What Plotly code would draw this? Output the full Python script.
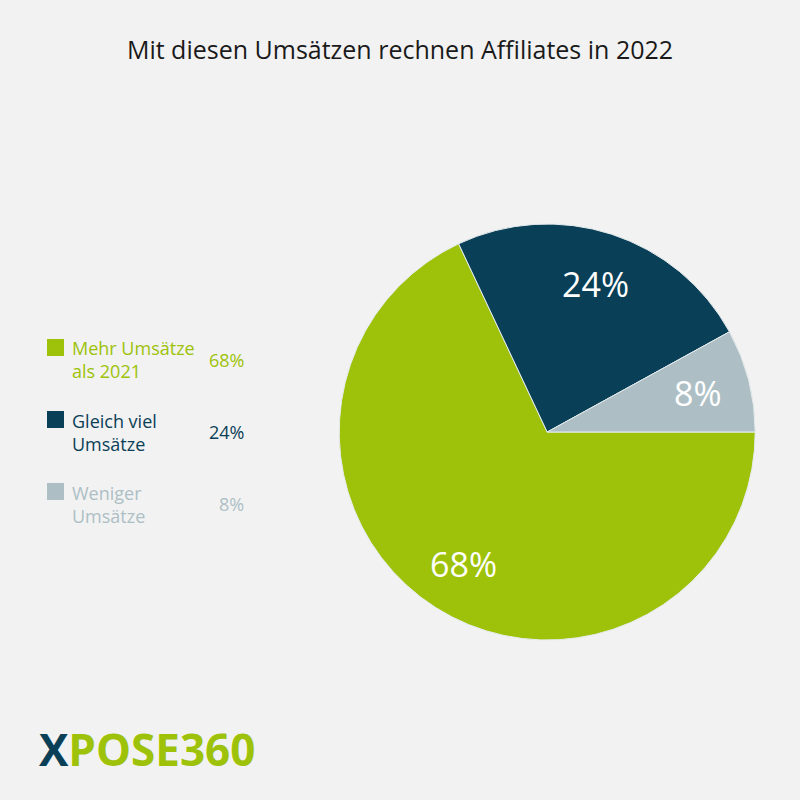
import math
import plotly.graph_objects as go

# Daten
kategorien = ["Mehr Umsätze<br>als 2021", "Gleich viel<br>Umsätze", "Weniger<br>Umsätze"]
anteile = [68, 24, 8]
farben = ["#9dc209", "#0a4057", "#adbfc5"]

bg = "#f2f2f2"
schrift = "Open Sans"

dom_x = [0.424, 0.944]
dom_y = [0.20, 0.72]

fig = go.Figure()

fig.add_trace(go.Pie(
    labels=kategorien, values=anteile, sort=False,
    direction="clockwise", rotation=90,
    marker=dict(colors=farben, line=dict(color="#e6ecee", width=1)),
    textinfo="none",
    domain=dict(x=dom_x, y=dom_y),
    showlegend=False, hoverinfo="label+percent",
))

annotations = []
shapes = []

# Prozentwerte in den Segmenten (Mitte des Segments, 0.75 des Radius)
cx = sum(dom_x) / 2
cy = sum(dom_y) / 2
r = (dom_x[1] - dom_x[0]) / 2
summe = sum(anteile)
start = 0
for wert in anteile:
    winkel = -math.radians((start + wert / 2) / summe * 360)
    start += wert
    annotations.append(dict(
        text=f"{wert}%", x=cx + 0.75 * r * math.cos(winkel), y=cy + 0.75 * r * math.sin(winkel),
        xref="paper", yref="paper", xanchor="center", yanchor="middle", showarrow=False,
        font=dict(family=schrift, size=34, color="white")))

# eigene Legende links
for i, (lab, wert, farbe) in enumerate(zip(kategorien, anteile, farben)):
    yc = 360 + i * 72
    annotations.append(dict(
        text=lab, x=70 / 800, y=1 - yc / 800, xref="paper", yref="paper",
        xanchor="left", yanchor="middle", align="left", showarrow=False,
        font=dict(family=schrift, size=18, color=farbe)))
    annotations.append(dict(
        text=f"{wert}%", x=246 / 800, y=1 - yc / 800, xref="paper", yref="paper",
        xanchor="right", yanchor="middle", showarrow=False,
        font=dict(family=schrift, size=18, color=farbe)))
    top = yc - 21
    shapes.append(dict(
        type="rect", xref="paper", yref="paper",
        x0=47 / 800, x1=64 / 800, y0=1 - top / 800, y1=1 - (top + 17) / 800,
        fillcolor=farbe, line=dict(width=0)))

# Logo
annotations.append(dict(
    text="<b><span style='color:#0a4057'>X</span>POSE360</b>",
    x=37 / 800, y=1 - 749 / 800, xref="paper", yref="paper",
    xanchor="left", yanchor="middle", showarrow=False,
    font=dict(family=schrift, size=44, color="#9dc209")))

fig.update_layout(
    width=800, height=800,
    paper_bgcolor=bg, plot_bgcolor=bg,
    margin=dict(l=0, r=0, t=0, b=0),
    title=dict(text="Mit diesen Umsätzen rechnen Affiliates in 2022",
               x=0.5, xanchor="center", y=1 - 50 / 800, yanchor="middle",
               font=dict(family=schrift, size=25, color="#1a1a1a")),
    annotations=annotations,
    shapes=shapes,
)

fig.write_html("out.html", config={"displayModeBar": False},
               post_script="document.body.style.margin='0';")
